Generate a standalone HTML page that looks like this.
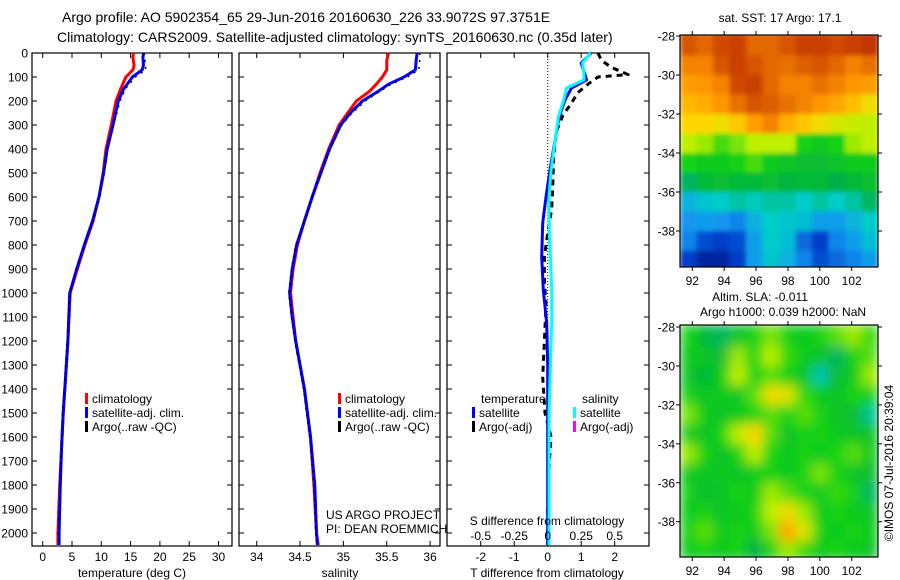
<!DOCTYPE html>
<html><head><meta charset="utf-8"><style>
html,body{margin:0;padding:0;background:#fff}
svg{display:block;font-family:"Liberation Sans",Arial,sans-serif}
text{fill:#000}
</style></head><body>
<svg id="chart" width="900" height="580" viewBox="0 0 900 580" xmlns="http://www.w3.org/2000/svg">
<defs>
<filter id="blurSla" x="0" y="0" width="1" height="1"><feGaussianBlur stdDeviation="6" edgeMode="duplicate"/></filter>
<filter id="blurSst" x="0" y="0" width="1" height="1"><feGaussianBlur stdDeviation="2.5" edgeMode="duplicate"/></filter>
</defs>
<rect width="900" height="580" fill="#fff"/>
<text x="62" y="22" font-size="14">Argo profile: AO 5902354_65 29-Jun-2016 20160630_226 33.9072S 97.3751E</text>
<text x="57" y="42" font-size="14">Climatology: CARS2009. Satellite-adjusted climatology: synTS_20160630.nc (0.35d later)</text>
<g id="g"></g>
</svg>
<script>
// ---------- data ----------
const depthT = [0,20,50,70,100,150,200,300,400,500,600,700,800,900,1000,1200,1350,1500,1650,1800,2000,2050];
const tempClim = [15.5,15.4,15.6,15.4,14.2,13.3,12.5,11.7,10.8,10.3,9.6,8.6,7.2,5.9,4.7,4.3,3.9,3.5,3.2,2.9,2.6,2.6];
const tempSat  = [17.2,17.1,17.2,17.0,15.3,13.8,12.9,12.0,11.0,10.4,9.6,8.5,7.1,5.8,4.6,4.3,3.9,3.5,3.2,3.0,2.8,2.8];
const tempArgo = [17.3,17.4,17.5,17.6,15.8,14.1,13.2,12.1,11.0,10.5,9.7,8.6,7.1,5.7,4.6,4.2,3.8,3.4,3.3,3.0,2.7,2.7];
const depthS = [0,30,70,100,130,160,200,250,300,400,500,600,700,800,900,1000,1100,1200,1400,1600,1800,2000,2050];
const salClim = [35.52,35.50,35.50,35.45,35.38,35.30,35.15,35.05,34.95,34.83,34.73,34.64,34.55,34.47,34.42,34.39,34.42,34.45,34.55,34.62,34.66,34.69,34.71];
const salSat  = [35.85,35.84,35.83,35.70,35.52,35.40,35.22,35.08,34.97,34.84,34.74,34.64,34.55,34.46,34.41,34.38,34.41,34.45,34.55,34.62,34.67,34.69,34.70];
const salArgo = [35.88,35.88,35.87,35.74,35.55,35.42,35.25,35.10,34.98,34.85,34.74,34.64,34.55,34.45,34.40,34.37,34.40,34.44,34.54,34.61,34.66,34.68,34.69];
const depthD = [0,42,85,112,146,195,266,362,487,600,708,850,987,1125,1300,1500,2050];
const tDiffSat = [1.3,1.0,1.1,1.16,0.71,0.52,0.34,0.22,0.07,-0.05,-0.15,-0.18,-0.13,-0.03,0.0,0.0,0.0];
const sDiffSat = [0.32,0.26,0.27,0.27,0.14,0.12,0.08,0.055,0.025,0.01,0.01,0.02,0.03,0.03,0.02,0.01,0.01];
const depthA = [0,30,60,90,100,130,165,210,260,330,430,560,650,750,850,950,1050,1200,1350,1500,1600,1700,1900,2050];
const tDiffArgo = [1.5,1.6,1.9,2.4,1.5,1.2,0.9,0.7,0.45,0.25,0.18,0.15,0.12,0.0,-0.1,-0.1,-0.05,-0.1,-0.15,-0.08,0.1,0.05,0.0,0.0];
const depthTicks = [0,100,200,300,400,500,600,700,800,900,1000,1100,1200,1300,1400,1500,1600,1700,1800,1900,2000];
const tempTicks = [0,5,10,15,20,25,30];
const salTicks = [34,34.5,35,35.5,36];
const tDiffTicks = [-2,-1,0,1,2];
const sDiffTicks = [-0.5,-0.25,0,0.25,0.5];
const latTicks = [-28,-30,-32,-34,-36,-38];
const lonTicks = [92,94,96,98,100,102];
const sstGrid = [
[0.95,0.93,0.96,0.97,0.93,0.93,0.95,0.97,0.97,0.96,0.97,0.98],
[0.90,0.90,0.95,0.97,0.95,0.93,0.92,0.94,0.95,0.93,0.90,0.92],
[0.87,0.88,0.90,0.96,0.97,0.93,0.90,0.90,0.92,0.90,0.88,0.87],
[0.84,0.85,0.88,0.92,0.95,0.94,0.92,0.90,0.88,0.86,0.83,0.78],
[0.80,0.80,0.78,0.82,0.87,0.90,0.85,0.82,0.78,0.75,0.73,0.72],
[0.72,0.70,0.65,0.68,0.72,0.72,0.72,0.62,0.60,0.62,0.70,0.72],
[0.62,0.60,0.60,0.62,0.65,0.60,0.58,0.56,0.56,0.58,0.60,0.60],
[0.50,0.55,0.56,0.55,0.55,0.56,0.54,0.55,0.55,0.52,0.55,0.56],
[0.35,0.40,0.42,0.45,0.43,0.45,0.45,0.42,0.45,0.42,0.45,0.50],
[0.28,0.30,0.28,0.25,0.35,0.42,0.40,0.38,0.30,0.30,0.35,0.42],
[0.25,0.15,0.12,0.15,0.30,0.42,0.38,0.20,0.12,0.25,0.30,0.38],
[0.12,0.05,0.05,0.12,0.30,0.40,0.35,0.25,0.15,0.20,0.25,0.30]];
const slaGrid = [
[0.62,0.55,0.50,0.58,0.62,0.68,0.62,0.60,0.62,0.66,0.70,0.64],
[0.60,0.58,0.56,0.70,0.62,0.72,0.64,0.60,0.58,0.50,0.62,0.66],
[0.58,0.55,0.60,0.72,0.62,0.66,0.62,0.58,0.44,0.56,0.60,0.70],
[0.62,0.58,0.60,0.58,0.66,0.78,0.76,0.64,0.60,0.58,0.62,0.62],
[0.68,0.60,0.58,0.60,0.62,0.66,0.62,0.66,0.62,0.58,0.56,0.46],
[0.60,0.58,0.62,0.72,0.80,0.66,0.58,0.62,0.62,0.60,0.58,0.58],
[0.70,0.62,0.58,0.62,0.72,0.62,0.60,0.62,0.60,0.62,0.66,0.60],
[0.60,0.58,0.60,0.58,0.60,0.62,0.60,0.62,0.68,0.62,0.58,0.56],
[0.62,0.56,0.58,0.62,0.60,0.70,0.66,0.62,0.60,0.64,0.62,0.50],
[0.60,0.62,0.58,0.60,0.62,0.72,0.78,0.70,0.60,0.62,0.60,0.58],
[0.62,0.66,0.60,0.62,0.60,0.68,0.86,0.76,0.62,0.60,0.62,0.60],
[0.60,0.62,0.60,0.62,0.52,0.62,0.70,0.64,0.60,0.62,0.60,0.58]];

// ---------- helpers ----------
const NS="http://www.w3.org/2000/svg";
const root=document.getElementById('g');
function el(tag,attrs,parent){const e=document.createElementNS(NS,tag);for(const k in attrs)e.setAttribute(k,attrs[k]);(parent||root).appendChild(e);return e;}
function txt(x,y,s,anchor,size,parent){const t=el('text',{x:x,y:y,'font-size':size||12,'text-anchor':anchor||'start'},parent);t.textContent=s;return t;}
const yTop=53, yPer=0.24, yBot=546;
const yD=d=>yTop+d*yPer;
const xT=v=>42.7+v*5.86;
const xS=v=>256.7+(v-34)*86.7;
const xTD=v=>547.7+v*33.5;
const xSD=v=>547.7+v*134;

function frame(x0,x1,name,leftLabels,xTicksFn,xTickVals,labelY){
  const g=el('g',{});
  
  
  el('rect',{x:x0,y:yTop,width:x1-x0,height:yBot-yTop,fill:'none',stroke:'#000','stroke-width':1.2},g);
  depthTicks.forEach(d=>{
    el('line',{x1:x0,x2:x0+5,y1:yD(d),y2:yD(d),stroke:'#000'},g);
    el('line',{x1:x1-5,x2:x1,y1:yD(d),y2:yD(d),stroke:'#000'},g);
    if(leftLabels){const t=txt(28,yD(d)+4.5,String(d),'end',12,g);}
  });
  xTickVals.forEach(v=>{
    const x=xTicksFn(v);
    el('line',{x1:x,x2:x,y1:yTop,y2:yTop+5,stroke:'#000'},g);
    el('line',{x1:x,x2:x,y1:yBot-5,y2:yBot,stroke:'#000'},g);
    const t=txt(x,labelY,String(v),'middle',12,g);
    
    
  });
  return g;
}
function line(xs,ds,xf,color,w,dash,name,parent){
  const pts=xs.map((v,i)=>xf(v).toFixed(1)+','+yD(ds[i]).toFixed(1)).join(' ');
  const p=el('polyline',{points:pts,fill:'none',stroke:color,'stroke-width':w,'stroke-linejoin':'round'},parent);
  if(dash)p.setAttribute('stroke-dasharray',dash);
  
  
  return p;
}
function legendItem(xb,y,color,label,name){
  const g=el('g',{});
  
  
  el('rect',{x:xb,y:y-10,width:3,height:11,fill:color},g);
  txt(xb+7,y,label,'start',12,g);
}

// ---------- panel 1 ----------
const p1=frame(32,232,'temperature-panel',true,xT,tempTicks,561);
line(tempClim,depthT,xT,'#f00',3,null,'temp-climatology-line',p1);
line(tempSat,depthT,xT,'#00f',3,null,'temp-satellite-line',p1);
line(tempArgo,depthT,xT,'#000',1.5,'2 5','temp-argo-line',p1);
txt(132,577,'temperature (deg C)','middle',12);
legendItem(85,403,'#f00','climatology','legend-climatology');
legendItem(85,417,'#00f','satellite-adj. clim.','legend-satellite');
legendItem(85,431,'#000','Argo(..raw -QC)','legend-argo');

// ---------- panel 2 ----------
const p2=frame(239,440,'salinity-panel',false,xS,salTicks,561);
line(salClim,depthS,xS,'#f00',3,null,'sal-climatology-line',p2);
line(salSat,depthS,xS,'#00f',3,null,'sal-satellite-line',p2);
line(salArgo,depthS,xS,'#000',1.5,'2 5','sal-argo-line',p2);
txt(340,577,'salinity','middle',12);
legendItem(338,403,'#f00','climatology','legend-climatology-2');
legendItem(338,417,'#00f','satellite-adj. clim.','legend-satellite-2');
legendItem(338,431,'#000','Argo(..raw -QC)','legend-argo-2');
txt(326,519,'US ARGO PROJECT','start',12);
txt(326,533,'PI: DEAN ROEMMICH','start',12);

// ---------- panel 3 ----------
const p3=frame(447,649,'difference-panel',false,xTD,tDiffTicks,561);
el('line',{x1:547.7,x2:547.7,y1:yTop,y2:yBot,stroke:'#000','stroke-dasharray':'1 2'},p3);
line(tDiffArgo,depthA,xTD,'#000',3,'6 5','tdiff-argo-line',p3);
line(tDiffSat,depthD,xTD,'#00f',3,null,'tdiff-satellite-line',p3);
line(sDiffSat,depthD,xSD,'#0ff',3,null,'sdiff-satellite-line',p3);
sDiffTicks.forEach(v=>{const t=txt(xSD(v),540,String(v),'middle',12);});
txt(547,525,'S difference from climatology','middle',12);
txt(547,577,'T difference from climatology','middle',12);
txt(481,403,'temperature','start',12);
txt(582,403,'salinity','start',12);
legendItem(472,417,'#00f','satellite','legend-t-satellite');
legendItem(472,431,'#000','Argo(-adj)','legend-t-argo');
legendItem(573,417,'#0ff','satellite','legend-s-satellite');
legendItem(573,431,'#f0f','Argo(-adj)','legend-s-argo');

// ---------- maps ----------
const cmStops=[[0,[0,20,130]],[0.12,[0,60,200]],[0.28,[20,150,240]],[0.42,[0,205,200]],[0.52,[0,175,70]],[0.62,[20,210,20]],[0.72,[190,240,0]],[0.80,[255,215,0]],[0.88,[255,150,0]],[0.95,[215,85,0]],[1,[180,30,0]]];
function cmap(v){v=Math.max(0,Math.min(1,v));for(let i=1;i<cmStops.length;i++){if(v<=cmStops[i][0]){const a=cmStops[i-1],b=cmStops[i];const f=(v-a[0])/(b[0]-a[0]);const c=a[1].map((x,k)=>Math.round(x+(b[1][k]-x)*f));return 'rgb('+c.join(',')+')';}}return 'rgb(180,30,0)';}
function drawMap(grid,y0,y1,lat28y,latPer,name,lonLabelY,id,filt){
  const x0=680,x1=878;
  const lon=v=>692.3+(v-92)*15.94;
  const lat=v=>lat28y+(-28-v)*latPer;
  const g=el('g',{});
  
  
  const cp=el('clipPath',{id:id},g);el('rect',{x:x0,y:y0,width:x1-x0,height:y1-y0},cp);
  const outer=el('g',{'clip-path':'url(#'+id+')'},g);
  const cells=el('g',{filter:'url(#'+filt+')'},outer);
  const nr=grid.length,nc=grid[0].length;
  const lonStep=(103.65-91.23)/nc;
  for(let r=0;r<nr;r++)for(let c=0;c<nc;c++){
    const xa=lon(91.23+c*lonStep),xb=lon(91.23+(c+1)*lonStep);
    const yb=lat(-28-r-1);
    const ext=(r==0?3:0);
    const rc=el('rect',{x:xa.toFixed(1),y:(lat(-28-r)-ext).toFixed(1),width:(xb-xa+0.6).toFixed(1),height:(yb-lat(-28-r)+0.6+ext).toFixed(1),fill:cmap(grid[r][c])},cells);
    
    
  }
  el('rect',{x:x0,y:y0,width:x1-x0,height:y1-y0,fill:'none',stroke:'#000','stroke-width':1.2},g);
  latTicks.forEach(v=>{const y=lat(v);el('line',{x1:x0-4,x2:x0,y1:y,y2:y,stroke:'#000'},g);el('line',{x1:x1,x2:x1+4,y1:y,y2:y,stroke:'#000'},g);txt(675,y+4.5,String(v),'end',12,g);});
  lonTicks.forEach(v=>{const x=lon(v);el('line',{x1:x,x2:x,y1:y0-4,y2:y0,stroke:'#000'},g);el('line',{x1:x,x2:x,y1:y1,y2:y1+4,stroke:'#000'},g);txt(x,lonLabelY,String(v),'middle',12,g);});
}
drawMap(sstGrid,35,267,36,19.5,'sst-map',285,'clipSst','blurSst');
drawMap(slaGrid,325,557,327,19.47,'sla-map',575,'clipSla','blurSla');
txt(780,22,'sat. SST: 17 Argo: 17.1','middle',12);
txt(760,301,'Altim. SLA: -0.011','middle',12);
txt(783,316,'Argo h1000: 0.039 h2000: NaN','middle',12);
const cr=txt(0,0,'©IMOS 07-Jul-2016 20:39:04','middle',12);
cr.setAttribute('transform','translate(893,463) rotate(-90)');

</script>
</body></html>
